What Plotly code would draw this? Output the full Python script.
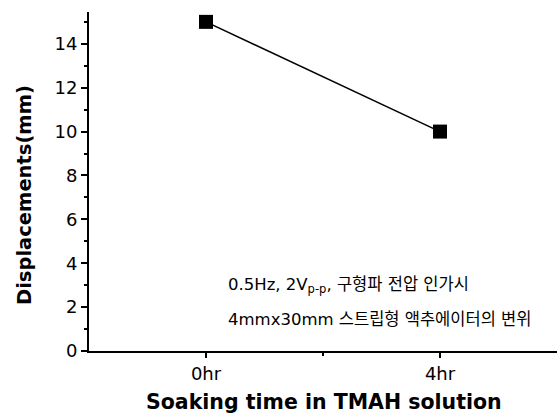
import plotly.graph_objects as go

categories = ["0hr", "4hr"]
x_pos = [0, 1]
displacement = [15, 10]
y_ticks = [0, 2, 4, 6, 8, 10, 12, 14]

L, R, T, B = 89, 1, 12, 65
W, H = 558, 416
pw, ph = W - L - R, H - T - B

fig = go.Figure()
fig.add_trace(go.Scatter(
    x=x_pos, y=displacement, mode="lines+markers",
    line=dict(color="black", width=1.5),
    marker=dict(symbol="square", size=14, color="black"),
    showlegend=False, cliponaxis=False,
))

fig.update_layout(
    width=W, height=H,
    margin=dict(l=L, r=R, t=T, b=B),
    paper_bgcolor="white", plot_bgcolor="white",
    font=dict(family="DejaVu Sans, Liberation Sans, sans-serif", color="black"),
    xaxis=dict(
        range=[-0.5, 1.5], tickvals=x_pos, ticktext=categories,
        showline=True, linecolor="black", linewidth=2,
        ticks="outside", ticklen=5, tickwidth=1.5, tickcolor="black",
        minor=dict(tickvals=[0.5], ticks="outside", ticklen=3, tickcolor="black"),
        showgrid=False, zeroline=False, automargin=False,
        tickfont=dict(size=18),
    ),
    yaxis=dict(
        range=[0, 15.45], tickvals=y_ticks,
        showline=True, linecolor="black", linewidth=2,
        ticks="outside", ticklen=6, tickwidth=1.5, tickcolor="black",
        minor=dict(dtick=1, ticks="outside", ticklen=3, tickcolor="black"),
        showgrid=False, zeroline=False, automargin=False,
        tickfont=dict(size=18),
    ),
)

def px_x(x):
    return (x - L) / pw

def px_y(y):
    return (H - B - y) / ph

fig.add_annotation(
    xref="paper", yref="paper", x=px_x(324), y=px_y(402),
    xanchor="center", yanchor="middle", showarrow=False,
    text="<b>Soaking time in TMAH solution</b>",
    font=dict(size=20.5, family="DejaVu Sans, sans-serif"),
)
fig.add_annotation(
    xref="paper", yref="paper", x=px_x(25), y=px_y(195),
    xanchor="center", yanchor="middle", showarrow=False, textangle=-90,
    text="<b>Displacements(mm)</b>",
    font=dict(size=19.5, family="DejaVu Sans, sans-serif"),
)
fig.add_annotation(
    xref="paper", yref="paper", x=px_x(226), y=px_y(285),
    xanchor="left", yanchor="middle", showarrow=False,
    text="0.5Hz, 2V<sub>p-p</sub>, 구형파 전압 인가시",
    font=dict(size=16.5, family="DejaVu Sans, Noto Sans CJK KR, sans-serif"),
)
fig.add_annotation(
    xref="paper", yref="paper", x=px_x(226), y=px_y(319),
    xanchor="left", yanchor="middle", showarrow=False,
    text="4mmx30mm 스트립형 액추에이터의 변위",
    font=dict(size=16.5, family="DejaVu Sans, Noto Sans CJK KR, sans-serif"),
)

fig.write_html("out.html", config={"displayModeBar": False},
               post_script="document.body.style.margin='0';")
